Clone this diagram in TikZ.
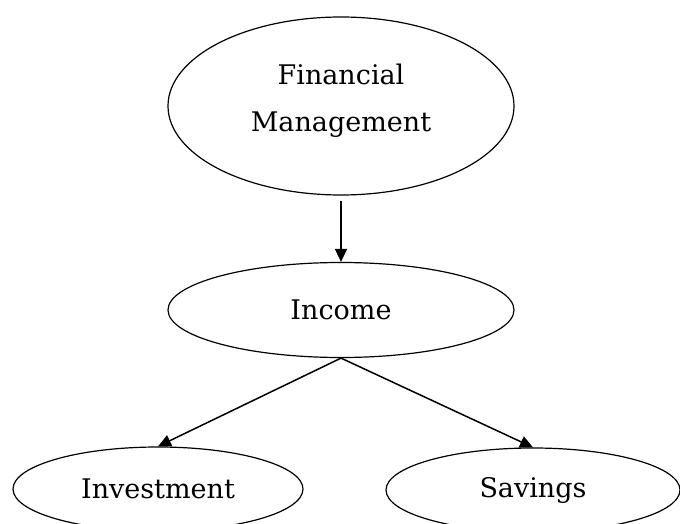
\documentclass[tikz,border=0pt]{standalone}
\usepackage{fontspec}
\setmainfont{DejaVu Serif}
\usetikzlibrary{shapes.geometric,arrows.meta}
\begin{document}
\begin{tikzpicture}[x=1pt,y=-1pt,
  oval/.style={draw=black,ellipse,inner sep=0pt,line width=1.2pt,align=center,
    font=\fontsize{27}{47}\selectfont},
  conn/.style={line width=1.5pt,-{Triangle[length=13pt,width=12pt]}}]
\useasboundingbox (0,0) rectangle (680,524);
\node[oval,minimum width=346pt,minimum height=178pt,text depth=17pt] (fm) at (341,106) {Financial\\Management};
\node[oval,minimum width=346pt,minimum height=95pt] (inc) at (341,310) {Income};
\node[oval,minimum width=290pt,minimum height=84pt] (inv) at (158,489) {Investment};
\node[oval,minimum width=294pt,minimum height=84pt] (sav) at (533,490) {Savings};
\draw[conn,shorten <=5pt] (fm.south) -- (inc.north);
\draw[conn] (inc.south) -- (inv.north);
\draw[conn] (inc.south) -- (sav.north);
\end{tikzpicture}
\end{document}
